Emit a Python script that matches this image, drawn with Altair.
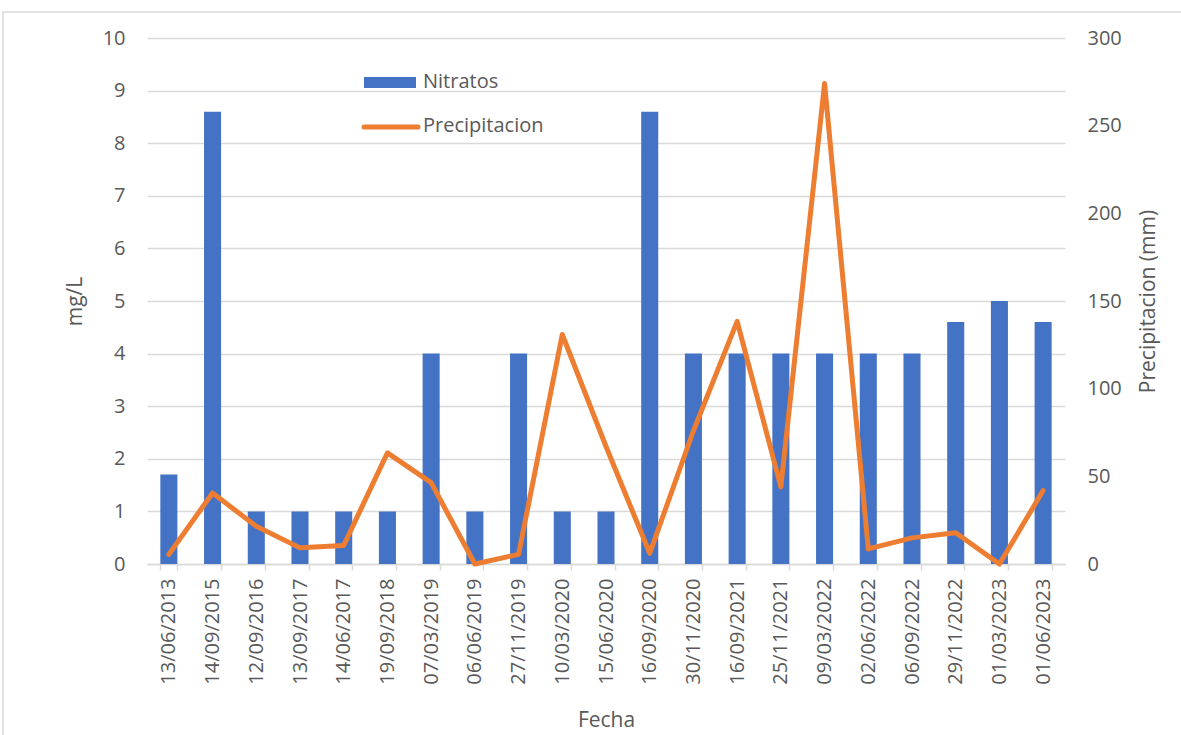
import altair as alt
import pandas as pd

# Sampling dates (categorical axis, in the order they were taken)
fechas = [
    "13/06/2013", "14/09/2015", "12/09/2016", "13/09/2017", "14/06/2017",
    "19/09/2018", "07/03/2019", "06/06/2019", "27/11/2019", "10/03/2020",
    "15/06/2020", "16/09/2020", "30/11/2020", "16/09/2021", "25/11/2021",
    "09/03/2022", "02/06/2022", "06/09/2022", "29/11/2022", "01/03/2023",
    "01/06/2023",
]

# Nitrate concentration (mg/L)
nitratos = [1.7, 8.6, 1, 1, 1, 1, 4, 1, 4, 1, 1, 8.6, 4, 4, 4, 4, 4, 4, 4.6, 5.0, 4.6]

# Precipitation (mm)
precipitacion = [5.5, 40.5, 21.5, 9.2, 10.6, 63.4, 46.4, 0, 5.5, 130.9, 67, 6.1,
                 76, 138.4, 44, 274, 8.6, 14.9, 17.8, 0, 41.9]

series_names = ["Nitratos", "Precipitacion"]

df = pd.DataFrame({"Fecha": fechas, "Nitratos": nitratos, "Precipitacion": precipitacion})

BLUE = "#4472C4"
ORANGE = "#ED7D31"
GRAY_TXT = "#595959"
GRID = "#D9D9D9"
FONT = "Open Sans"

W, H = 918, 526

x_enc = alt.X(
    "Fecha:N",
    sort=None,
    scale=alt.Scale(paddingInner=0.61, paddingOuter=0.305),
    axis=alt.Axis(
        title="Fecha",
        labelAngle=270,
        labelFontSize=20,
        labelFont=FONT,
        labelColor=GRAY_TXT,
        labelPadding=8,
        tickBand="extent",
        tickSize=6,
        tickColor=GRID,
        tickWidth=1.5,
        domainColor=GRID,
        domainWidth=1.5,
        titleFont=FONT,
        titleFontSize=21,
        titleFontWeight="normal",
        titleColor=GRAY_TXT,
        titleX=W / 2,
        titleY=156,
        titleBaseline="middle",
        titleAlign="center",
    ),
)

bars = alt.Chart(df).mark_bar(color=BLUE).encode(
    x=x_enc,
    y=alt.Y(
        "Nitratos:Q",
        scale=alt.Scale(domain=[0, 10], nice=False),
        axis=alt.Axis(
            title="mg/L",
            values=list(range(0, 11)),
            orient="left",
            domain=False,
            ticks=False,
            tickSize=0,
            labelPadding=22,
            labelFont=FONT,
            labelFontSize=20,
            labelColor=GRAY_TXT,
            grid=True,
            gridColor=GRID,
            gridWidth=1.5,
            titleFont=FONT,
            titleFontSize=21,
            titleFontWeight="normal",
            titleColor=GRAY_TXT,
            titleAngle=270,
            titleX=-72,
            titleY=H / 2,
            titleAlign="center",
            titleBaseline="middle",
        ),
    ),
)

line = alt.Chart(df).mark_line(
    color=ORANGE, strokeWidth=5, strokeJoin="round", strokeCap="round"
).encode(
    x=alt.X("Fecha:N", sort=None),
    y=alt.Y(
        "Precipitacion:Q",
        scale=alt.Scale(domain=[0, 300], nice=False),
        axis=alt.Axis(
            title="Precipitacion (mm)",
            values=list(range(0, 301, 50)),
            orient="right",
            domain=False,
            ticks=False,
            tickSize=0,
            labelPadding=22,
            labelFont=FONT,
            labelFontSize=20,
            labelColor=GRAY_TXT,
            grid=False,
            titleFont=FONT,
            titleFontSize=21,
            titleFontWeight="normal",
            titleColor=GRAY_TXT,
            titleAngle=270,
            titleX=83,
            titleY=H / 2,
            titleAlign="center",
            titleBaseline="middle",
        ),
    ),
)

# In-plot legend
leg_bar_df = pd.DataFrame({"serie": [series_names[0]]})
leg_line_df = pd.DataFrame({"serie": [series_names[1]]})

leg_rect = alt.Chart(leg_bar_df).mark_rect(color=BLUE).encode(
    x=alt.value(217), x2=alt.value(269), y=alt.value(39), y2=alt.value(50)
)
leg_rect_txt = alt.Chart(leg_bar_df).mark_text(
    align="left", baseline="middle", font=FONT, fontSize=20, color=GRAY_TXT
).encode(x=alt.value(276), y=alt.value(44), text="serie:N")

leg_rule = alt.Chart(leg_line_df).mark_rule(
    color=ORANGE, strokeWidth=5, strokeCap="round"
).encode(x=alt.value(217), x2=alt.value(271), y=alt.value(89))
leg_rule_txt = alt.Chart(leg_line_df).mark_text(
    align="left", baseline="middle", font=FONT, fontSize=20, color=GRAY_TXT
).encode(x=alt.value(276), y=alt.value(88), text="serie:N")

# Chart frame
frame = alt.Chart(pd.DataFrame({"k": [0]})).mark_rect(
    fill=None, stroke=GRID, strokeWidth=1.5
).encode(x=alt.value(-144), x2=alt.value(1200), y=alt.value(-26), y2=alt.value(800))

chart = (
    alt.layer(frame, bars, line, leg_rect, leg_rect_txt, leg_rule, leg_rule_txt)
    .resolve_scale(y="independent")
    .properties(
        width=W,
        height=H,
        autosize=alt.AutoSizeParams(type="none"),
        padding={"left": 147, "top": 38, "right": 116, "bottom": 171},
        background="white",
    )
    .configure_view(stroke=None)
)

chart.save("out.html", embed_options={"renderer": "svg", "actions": False})
